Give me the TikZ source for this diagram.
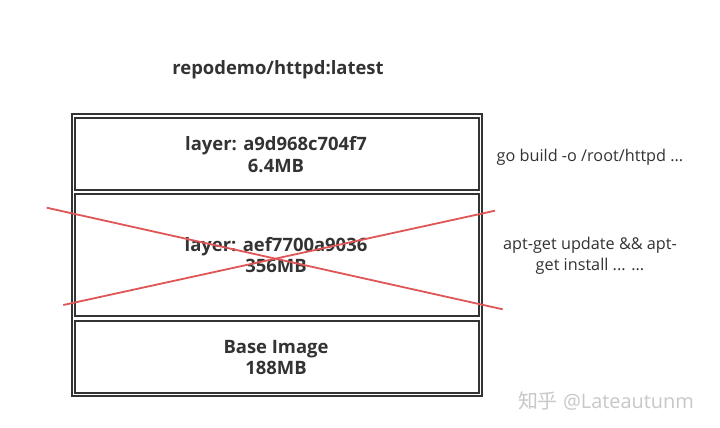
\documentclass[tikz,border=0pt]{standalone}
\usepackage{fontspec}
\setmainfont{Open Sans}
\newfontfamily\cjk{Noto Sans CJK SC}
\definecolor{ink}{HTML}{333333}
\definecolor{cross}{HTML}{E05555}
\definecolor{wm}{HTML}{C8C8C8}
\begin{document}
\begin{tikzpicture}[x=1bp,y=-1bp,
  frame/.style={draw=ink,line width=2bp},
  layerbox/.style={draw=ink,line width=2bp},
  lbl/.style={text=ink,font=\bfseries\fontsize{18.5}{22}\selectfont,align=center},
  cmd/.style={text=ink,font=\fontsize{16.3}{21}\selectfont,align=center},
  xline/.style={draw=cross,line width=1.8bp}]
\useasboundingbox (0,0) rectangle (720,427);
\fill[white] (0,0) rectangle (720,427);
\node[lbl] (title) at (278,70) {repodemo/httpd:latest};
\draw[frame] (71.7,114.3) rectangle (481.7,396);
\draw[layerbox] (74.9,117.5) rectangle (478.5,190.3);
\draw[layerbox] (74.9,194.3) rectangle (478.5,316);
\draw[layerbox] (74.9,321) rectangle (478.5,392.8);
\node[lbl] (l1) at (276,155) {layer: a9d968c704f7\\6.4MB};
\node[lbl] (l2) at (276,255) {layer: aef7700a9036\\356MB};
\node[lbl] (l3) at (276,357.5) {Base Image\\188MB};
\coordinate (a1) at (46.7,207.7);
\coordinate (a2) at (502.7,309.3);
\coordinate (b1) at (63.3,305);
\coordinate (b2) at (495,210.7);
\draw[xline] (a1) -- (a2);
\draw[xline] (b1) -- (b2);
\node[cmd] (c1) at (590,157) {go build -o /root/httpd ...};
\node[cmd] (c2) at (590,256) {apt-get update \&\& apt-\\get install ... ...};
\node[text=wm,font=\fontsize{20}{24}\selectfont] (wmk) at (606,401) {{\cjk 知乎} @Lateautunm};
\end{tikzpicture}
\end{document}
